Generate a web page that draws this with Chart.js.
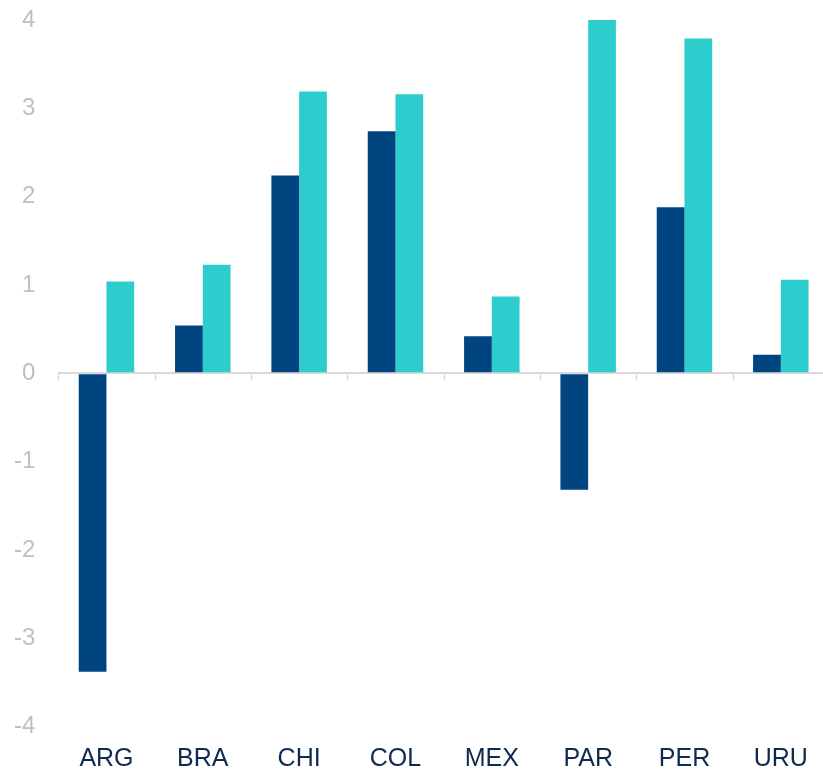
<!DOCTYPE html>
<html>
<head>
<meta charset="utf-8">
<script src="https://cdn.jsdelivr.net/npm/chart.js@4/dist/chart.umd.min.js"></script>
<style>
  html, body { margin: 0; padding: 0; background: #ffffff; overflow: hidden; }
  #wrap { width: 829px; height: 769px; }
</style>
</head>
<body>
<div id="wrap"><canvas id="c" width="829" height="769"></canvas></div>
<script>
const categories = ["ARG", "BRA", "CHI", "COL", "MEX", "PAR", "PER", "URU"];
const series1 = [-3.38, 0.54, 2.24, 2.74, 0.42, -1.32, 1.88, 0.21];
const series2 = [1.04, 1.23, 3.19, 3.16, 0.87, 4.0, 3.79, 1.06];
const yTicks = [-4, -3, -2, -1, 0, 1, 2, 3, 4];

const zeroTicks = {
  id: 'zeroTicks',
  beforeDatasetsDraw(chart) {
    const x = chart.scales.x, y = chart.scales.y;
    const y0 = y.getPixelForValue(0);
    const n = categories.length;
    const ctx = chart.ctx;
    ctx.save();
    ctx.strokeStyle = '#D9D9D9';
    ctx.lineWidth = 1.5;
    for (let i = 0; i <= n; i++) {
      const px = Math.round(x.left + i * (x.width / n)) + 0.5;
      ctx.beginPath();
      ctx.moveTo(px, y0);
      ctx.lineTo(px, y0 + 7);
      ctx.stroke();
    }
    ctx.restore();
  }
};

new Chart(document.getElementById('c'), {
  type: 'bar',
  data: {
    labels: categories,
    datasets: [
      { label: 'Series 1', data: series1, backgroundColor: '#004480', borderWidth: 0,
        categoryPercentage: 0.576, barPercentage: 1 },
      { label: 'Series 2', data: series2, backgroundColor: '#2ECDCD', borderWidth: 0,
        categoryPercentage: 0.576, barPercentage: 1 }
    ]
  },
  options: {
    responsive: false,
    animation: false,
    layout: { padding: { top: 20, right: 0, left: 0, bottom: 0 } },
    plugins: { legend: { display: false }, tooltip: { enabled: false } },
    scales: {
      x: {
        grid: { display: false },
        border: { display: false },
        ticks: {
          color: '#0E2A4F',
          font: { family: 'Liberation Sans, Arial, sans-serif', size: 25 },
          padding: 9.5,
          maxRotation: 0,
          autoSkip: false
        },
        afterFit(s) { s.height = 42.5; }
      },
      y: {
        min: -4,
        max: 4,
        afterBuildTicks(s) { s.ticks = yTicks.map(v => ({ value: v })); },
        grid: {
          drawTicks: true,
          tickLength: 23,
          tickColor: 'rgba(0,0,0,0)',
          lineWidth: 2,
          color: (c) => (c.tick && c.tick.value === 0) ? '#D9D9D9' : 'rgba(0,0,0,0)'
        },
        border: { display: false },
        ticks: {
          color: '#BFBFBF',
          font: { family: 'Liberation Sans, Arial, sans-serif', size: 24 },
          padding: 0
        },
        afterFit(s) { s.width = 58.3; }
      }
    }
  },
  plugins: [zeroTicks]
});
</script>
</body>
</html>
